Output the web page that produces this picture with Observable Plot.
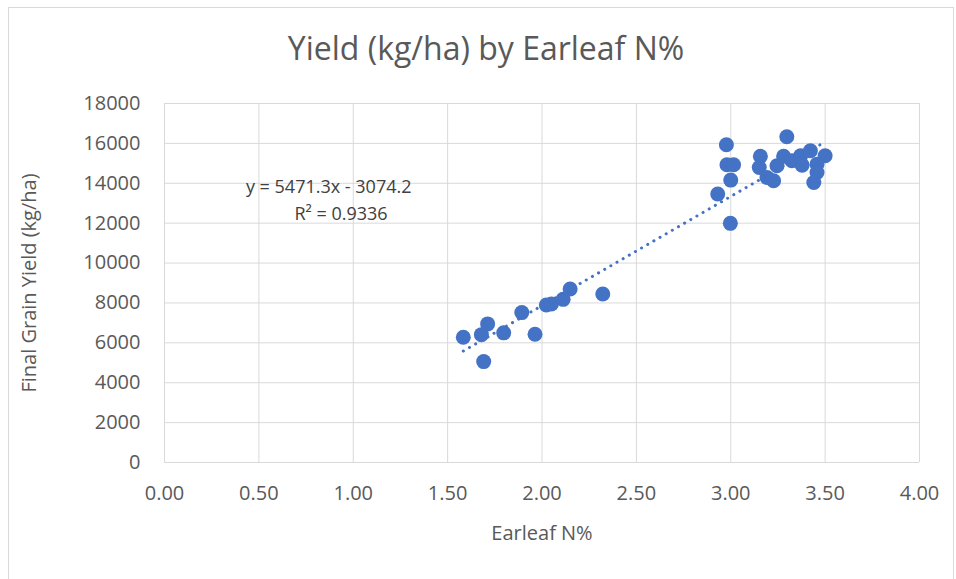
<!DOCTYPE html>
<html>
<head>
<meta charset="utf-8">
<script src="https://cdn.jsdelivr.net/npm/d3@7"></script>
<script src="https://cdn.jsdelivr.net/npm/@observablehq/plot@0.6"></script>
<style>
  body { margin: 0; background: #fff; }
  #chart { position: relative; width: 956px; height: 579px; overflow: hidden; font-family: "Open Sans", sans-serif; }
  #border { position: absolute; left: 8px; top: 7px; width: 946px; height: 600px; border: 1px solid #d9d9d9; box-sizing: border-box; }
  #title { position: absolute; left: 8px; width: 956px; top: 27px; text-align: center; font-size: 32px; color: #595959; line-height: 42px; }
  #plot { position: absolute; left: 0; top: 80px; }
</style>
</head>
<body>
<div id="chart">
  <div id="border"></div>
  <div id="title">Yield (kg/ha) by Earleaf N%</div>
  <div id="plot"></div>
</div>
<script>
// Earleaf N% values
const earleafN = [
  1.583, 1.679, 1.712, 1.691, 1.797, 1.893, 1.963, 2.023, 2.050, 2.112, 2.149, 2.322,
  2.977, 2.980, 3.015, 3.000, 2.931, 2.998,
  3.297, 3.157, 3.151, 3.192, 3.227, 3.245, 3.280, 3.324, 3.370, 3.378,
  3.422, 3.500, 3.457, 3.457, 3.440
];
// Final grain yield (kg/ha)
const grainYield = [
  6280, 6410, 6950, 5060, 6500, 7515, 6430, 7900, 7950, 8180, 8700, 8450,
  15930, 14930, 14930, 14160, 13460, 11990,
  16330, 15350, 14790, 14290, 14130, 14880, 15350, 15130, 15380, 14910,
  15630, 15380, 14960, 14540, 14040
];
// Trendline (as reported)
const trendSlope = 5471.3;
const trendIntercept = -3074.2;
const equationLines = ["y = 5471.3x - 3074.2", "R² = 0.9336"];
// Tick values
const xTicks = [0, 0.5, 1, 1.5, 2, 2.5, 3, 3.5, 4];
const yTicks = [0, 2000, 4000, 6000, 8000, 10000, 12000, 14000, 16000, 18000];

const points = earleafN.map((x, i) => ({x, y: grainYield[i]}));
const xMin = d3.min(earleafN), xMax = d3.max(earleafN);
const trend = [xMin, xMax].map(x => ({x, y: trendSlope * x + trendIntercept}));
const eqAnchor = [{x: 0.87, y: 13780, t: equationLines[0]}, {x: 0.935, y: 12440, t: equationLines[1]}];

const blue = "#4472C4";
const chart = Plot.plot({
  width: 956,
  height: 499,
  marginTop: 23,
  marginBottom: 117,
  marginLeft: 164,
  marginRight: 37,
  style: {fontFamily: "Open Sans, sans-serif", fontSize: "19px", color: "#595959", background: "transparent"},
  x: {domain: [0, 4]},
  y: {domain: [0, 18000]},
  marks: [
    Plot.gridX(xTicks, {stroke: "#d9d9d9", strokeOpacity: 1, strokeWidth: 1}),
    Plot.gridY(yTicks, {stroke: "#d9d9d9", strokeOpacity: 1, strokeWidth: 1}),
    Plot.axisX({ticks: xTicks, tickFormat: d3.format(".2f"), tickSize: 0, tickPadding: 23,
      label: "Earleaf N%", labelAnchor: "center", labelOffset: 77, labelArrow: "none", fontSize: 20}),
    Plot.axisY({ticks: yTicks, tickFormat: d3.format("d"), tickSize: 0, tickPadding: 24,
      label: "Final Grain Yield (kg/ha)", labelAnchor: "center", labelOffset: 143, labelArrow: "none", fontSize: 20}),
    Plot.dot(points, {x: "x", y: "y", r: 7.5, fill: blue, stroke: "none"}),
    Plot.line(trend, {x: "x", y: "y", stroke: blue, strokeWidth: 3, strokeDasharray: "0.1,7", strokeLinecap: "round"}),
    Plot.text(eqAnchor, {x: "x", y: "y", text: "t", fill: "#404040", fontSize: 18, textAnchor: "middle"})
  ]
});
document.getElementById("plot").appendChild(chart);
</script>
</body>
</html>
